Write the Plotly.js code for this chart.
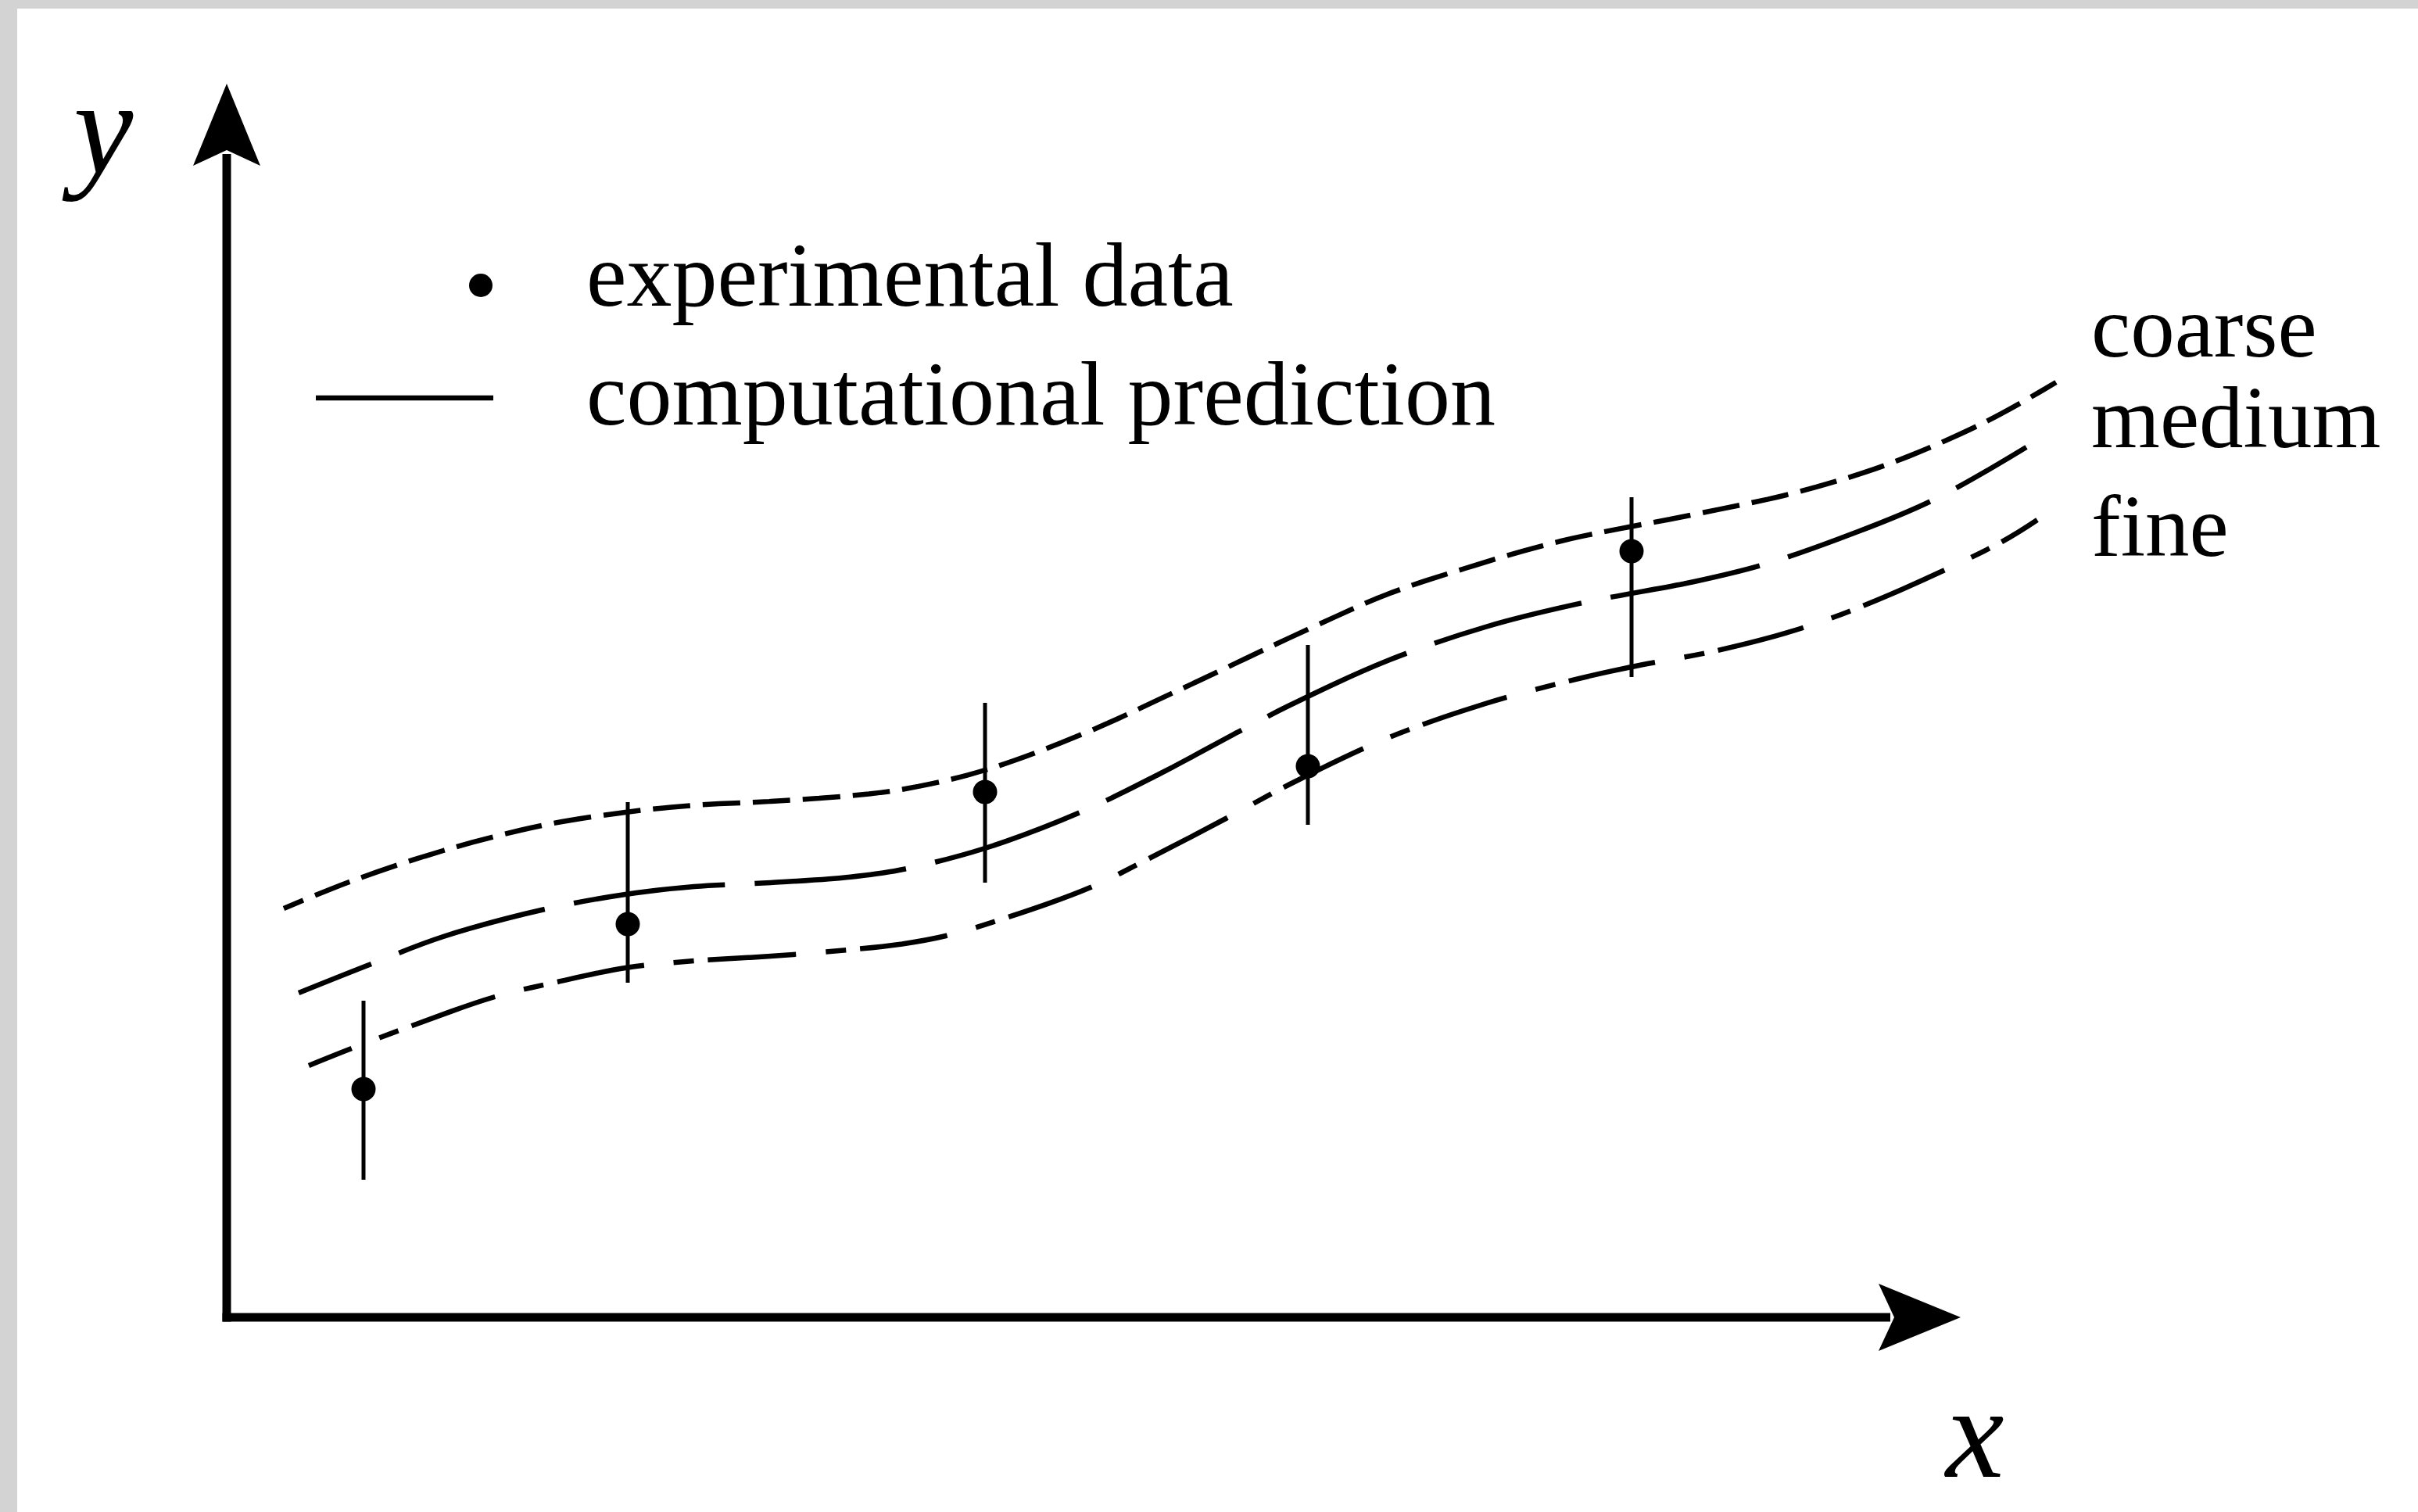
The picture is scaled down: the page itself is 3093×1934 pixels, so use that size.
<!DOCTYPE html>
<html>
<head>
<meta charset="utf-8">
<script src="https://cdn.plot.ly/plotly-3.0.1.min.js"></script>
<style>
  html, body { margin: 0; padding: 0; background: #ffffff; }
  #chart { width: 3093px; height: 1934px; }
</style>
</head>
<body>
<div id="chart"></div>
<script>
// ---- data (arbitrary units, origin at the axis corner) ----
const coarseX = [0.73, 1.57, 2.77, 4.03, 5.10, 5.98, 6.96, 7.95, 8.68, 9.70, 10.97, 12.13, 13.83, 14.85, 15.84, 17.07, 18.77, 20.07, 21.27, 22.47, 23.40];
const coarseY = [5.23, 5.57, 5.97, 6.29, 6.46, 6.55, 6.60, 6.67, 6.76, 7.00, 7.47, 8.00, 8.80, 9.25, 9.58, 9.93, 10.27, 10.55, 10.92, 11.44, 11.96];

const mediumX = [0.92, 1.85, 2.77, 4.07, 5.10, 5.98, 6.96, 7.95, 8.60, 9.70, 10.92, 11.93, 13.00, 13.60, 14.85, 16.10, 17.35, 18.77, 19.63, 20.60, 21.82, 23.02];
const mediumY = [4.15, 4.52, 4.87, 5.22, 5.41, 5.51, 5.56, 5.63, 5.72, 6.00, 6.46, 6.95, 7.52, 7.83, 8.40, 8.83, 9.14, 9.41, 9.62, 9.95, 10.45, 11.13];

const fineX = [1.05, 1.60, 2.37, 3.43, 4.23, 5.10, 5.98, 6.96, 7.95, 8.60, 9.20, 10.00, 11.05, 11.80, 12.78, 13.60, 14.85, 16.10, 17.13, 17.97, 19.07, 20.13, 21.10, 22.67, 23.16];
const fineY = [3.22, 3.44, 3.73, 4.10, 4.29, 4.47, 4.56, 4.62, 4.70, 4.77, 4.88, 5.12, 5.50, 5.87, 6.38, 6.82, 7.41, 7.85, 8.13, 8.32, 8.53, 8.81, 9.17, 9.90, 10.20];

const expX = [1.75, 5.13, 9.70, 13.83, 17.97];
const expY = [2.92, 5.03, 6.72, 7.05, 9.80];
const expErrPlus = [1.13, 1.56, 1.14, 1.55, 0.69];
const expErrMinus = [1.16, 0.75, 1.16, 0.75, 1.61];

const seriesNames = ['coarse', 'medium', 'fine'];
const legendLabels = ['experimental data', 'computational prediction'];
const axisLabels = ['x', 'y'];

// ---- styling / geometry ----
const W = 3093, H = 1934;
const X_RANGE = [-2.90, 28.03];   // 100 px per unit
const Y_RANGE = [-2.49, 16.85];   // 100 px per unit
const X_AXIS_END = 22.18, Y_AXIS_END = 15.78;
const SERIF = 'Liberation Serif, Times New Roman, serif';
const LW = 6.5;

function curve(x, y, dash) {
  return {
    type: 'scatter', mode: 'lines', x: x, y: y, showlegend: false, hoverinfo: 'skip',
    line: { color: '#000', width: LW, shape: 'spline', smoothing: 1, dash: dash }
  };
}

const traces = [
  curve(coarseX, coarseY, '27px,16px,21px,0px'),
  curve(mediumX, mediumY, '100px,38px,95px,0px'),
  curve(fineX, fineY, '59px,38px,26px,18px,54px,0px'),
  {
    type: 'scatter', mode: 'markers', x: expX, y: expY, showlegend: false, hoverinfo: 'skip',
    marker: { color: '#000', size: 31, line: { width: 0 } },
    error_y: { type: 'data', symmetric: false, array: expErrPlus, arrayminus: expErrMinus,
               color: '#000', thickness: 5, width: 0 }
  }
];

// axis arrows (decoration)
const headLen = 1.05, headHalf = 0.43, notch = 0.85, axW = 11, half = axW / 200;
const dotR = 0.15;
const shapes = [
  // gray frame strips
  { type: 'rect', xref: 'paper', yref: 'paper', x0: 0, x1: 22 / W, y0: 0, y1: 1,
    fillcolor: '#d3d3d3', line: { width: 0 }, layer: 'above' },
  { type: 'rect', xref: 'paper', yref: 'paper', x0: 0, x1: 1, y0: 1 - 11 / H, y1: 1,
    fillcolor: '#d3d3d3', line: { width: 0 }, layer: 'above' },
  // axis lines
  { type: 'line', xref: 'x', yref: 'y', x0: -half, y0: 0, x1: X_AXIS_END - notch - 0.05, y1: 0,
    line: { color: '#000', width: axW } },
  { type: 'line', xref: 'x', yref: 'y', x0: 0, y0: -half, x1: 0, y1: Y_AXIS_END - notch - 0.05,
    line: { color: '#000', width: axW } },
  // arrow heads
  { type: 'path', xref: 'x', yref: 'y', fillcolor: '#000', line: { width: 0 },
    path: 'M' + X_AXIS_END + ',0 L' + (X_AXIS_END - headLen) + ',' + headHalf +
          ' L' + (X_AXIS_END - notch) + ',0 L' + (X_AXIS_END - headLen) + ',' + (-headHalf) + ' Z' },
  { type: 'path', xref: 'x', yref: 'y', fillcolor: '#000', line: { width: 0 },
    path: 'M0,' + Y_AXIS_END + ' L' + headHalf + ',' + (Y_AXIS_END - headLen) +
          ' L0,' + (Y_AXIS_END - notch) + ' L' + (-headHalf) + ',' + (Y_AXIS_END - headLen) + ' Z' },
  // legend samples
  { type: 'circle', xref: 'x', yref: 'y', x0: 3.25 - dotR, x1: 3.25 + dotR, y0: 13.20 - dotR, y1: 13.20 + dotR,
    fillcolor: '#000', line: { width: 0 } },
  { type: 'line', xref: 'x', yref: 'y', x0: 1.14, x1: 3.41, y0: 11.76, y1: 11.76,
    line: { color: '#000', width: LW } }
];

const txt = (t, x, y, size, xanchor) => ({
  text: t, x: x, y: y, xref: 'x', yref: 'y', showarrow: false,
  xanchor: xanchor || 'left', yanchor: 'middle',
  font: { family: SERIF, size: size, color: '#000' }
});

const annotations = [
  txt('<i>' + axisLabels[1] + '</i>', -1.65, 15.22, 172, 'center'),
  txt('<i>' + axisLabels[0] + '</i>', 22.35, -1.47, 168, 'center'),
  txt(legendLabels[0], 4.58, 13.33, 116),
  txt(legendLabels[1], 4.58, 11.81, 116),
  txt(seriesNames[0], 23.83, 12.68, 113),
  txt(seriesNames[1], 23.83, 11.52, 113),
  txt(seriesNames[2], 23.83, 10.13, 113)
];

const layout = {
  width: W, height: H,
  margin: { l: 0, r: 0, t: 0, b: 0, pad: 0 },
  paper_bgcolor: '#ffffff', plot_bgcolor: '#ffffff',
  showlegend: false,
  xaxis: { range: X_RANGE, visible: false, showgrid: false, zeroline: false, fixedrange: true },
  yaxis: { range: Y_RANGE, visible: false, showgrid: false, zeroline: false, fixedrange: true },
  shapes: shapes,
  annotations: annotations
};

Plotly.newPlot('chart', traces, layout, { staticPlot: true, displayModeBar: false });
</script>
</body>
</html>
